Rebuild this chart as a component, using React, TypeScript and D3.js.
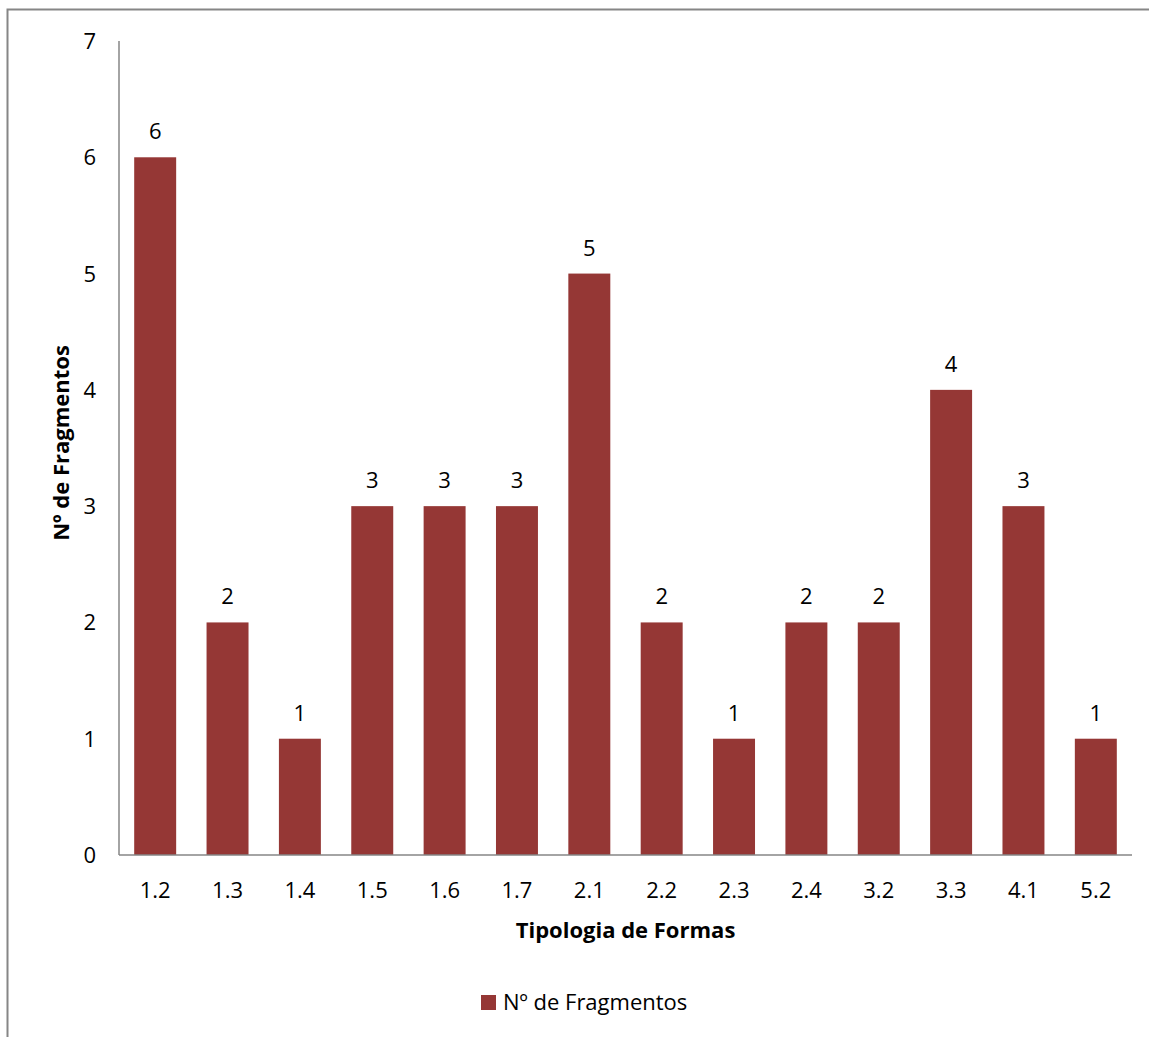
import React from "react";
import * as d3 from "d3";

const categories = ["1.2", "1.3", "1.4", "1.5", "1.6", "1.7", "2.1", "2.2", "2.3", "2.4", "3.2", "3.3", "4.1", "5.2"];
const fragments = [6, 2, 1, 3, 3, 3, 5, 2, 1, 2, 2, 4, 3, 1];
const yTicks = [0, 1, 2, 3, 4, 5, 6, 7];
const seriesName = "Nº de Fragmentos";
const xTitle = "Tipologia de Formas";
const yTitle = "Nº de Fragmentos";

const W = 1149;
const H = 1037;
const left = 119;
const right = 1132;
const top = 41;
const bottom = 855;
const barColor = "#953735";
const axisColor = "#868686";
const font = "'Open Sans', sans-serif";
const fs = 22;

export default function App() {
  const x = d3.scaleBand<string>().domain(categories).range([left, right]).paddingInner(0.42).paddingOuter(0.21);
  const y = d3.scaleLinear().domain([0, 7]).range([bottom, top]);

  return (
    <svg width={W} height={H} style={{ position: "absolute", left: 0, top: 0 }} fontFamily={font}>
      <rect x={0} y={0} width={W} height={H} fill="#fff" />
      {/* chart frame */}
      <path d={`M7.5,${H} V9.5 H${W}`} fill="none" stroke={axisColor} strokeWidth={2} />

      {/* bars */}
      {categories.map((c, i) => (
        <g key={c}>
          <rect x={x(c)} y={y(fragments[i])} width={x.bandwidth()} height={y(0) - y(fragments[i])} fill={barColor} />
          <text x={(x(c) as number) + x.bandwidth() / 2} y={y(fragments[i]) - 18} textAnchor="middle" fontSize={fs} fill="#000">
            {fragments[i]}
          </text>
          <text x={(x(c) as number) + x.bandwidth() / 2} y={898} textAnchor="middle" fontSize={fs} fill="#000">
            {c}
          </text>
        </g>
      ))}

      {/* axes */}
      <line x1={left} x2={left} y1={top} y2={bottom} stroke={axisColor} strokeWidth={1.5} />
      <line x1={left} x2={right} y1={bottom} y2={bottom} stroke={axisColor} strokeWidth={1.5} />
      {yTicks.map((t) => (
        <text key={t} x={96} y={y(t) + 8} textAnchor="end" fontSize={fs} fill="#000">
          {t}
        </text>
      ))}

      {/* axis titles */}
      <text x={(left + right) / 2} y={938} textAnchor="middle" fontSize={fs} fontWeight="bold" fill="#000">
        {xTitle}
      </text>
      <text transform={`translate(69,443) rotate(-90)`} textAnchor="middle" fontSize={fs} fontWeight="bold" fill="#000">
        {yTitle}
      </text>

      {/* legend */}
      <rect x={481} y={995} width={15} height={15} fill={barColor} />
      <text x={503} y={1010} fontSize={fs} fill="#000">
        {seriesName}
      </text>
    </svg>
  );
}
